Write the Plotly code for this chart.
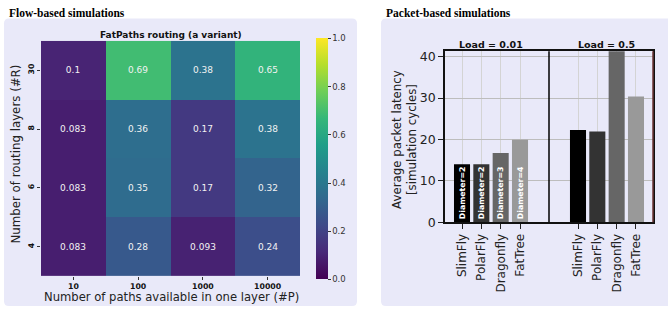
import plotly.graph_objects as go

W, H = 668, 316

# ---------------- data ----------------
paths = ["10", "100", "1000", "10000"]
layers = ["4", "6", "8", "30"]
z_4 = [0.083, 0.28, 0.093, 0.24]
z_6 = [0.083, 0.35, 0.17, 0.32]
z_8 = [0.083, 0.36, 0.17, 0.38]
z_30 = [0.1, 0.69, 0.38, 0.65]

topologies = ["SlimFly", "PolarFly", "Dragonfly", "FatTree"]
latency_low = [14.0, 14.0, 16.7, 19.9]
latency_high = [22.3, 21.9, 44.0, 30.4]
diameters = ["Diameter=2", "Diameter=2", "Diameter=3", "Diameter=4"]
bar_colors = ["#000000", "#333333", "#666666", "#999999"]
pos_low = [0, 1, 2, 3]
pos_high = [6, 7, 8, 9]
load_labels = ["Load = 0.01", "Load = 0.5"]

FONT = "DejaVu Sans"


def px_x(p):
    return p / W


def px_y(p):
    return 1 - p / H


z = [z_4, z_6, z_8, z_30]
ztext = [[f"{v:g}" for v in row] for row in z]

fig = go.Figure()

fig.add_trace(go.Heatmap(
    x=paths, y=layers, z=z, text=ztext, texttemplate="%{text}",
    textfont=dict(family=FONT, size=9, color="#f2f2f2"),
    colorscale="Viridis", zmin=0, zmax=1,
    xaxis="x", yaxis="y", showscale=True,
    colorbar=dict(
        x=px_x(316), xanchor="left", y=px_y(161.5), yanchor="middle",
        xpad=0, ypad=0,
        thickness=12, thicknessmode="pixels", len=241, lenmode="pixels",
        outlinewidth=0, ticks="outside", ticklen=3, tickcolor="#333",
        tickvals=[0, 0.2, 0.4, 0.6, 0.8, 1.0], tickformat=".1f",
        tickfont=dict(family=FONT, size=8.5, color="#333"),
    ),
    hoverinfo="skip",
))

fig.add_trace(go.Bar(
    x=pos_low + pos_high,
    y=latency_low + latency_high,
    width=0.83,
    marker=dict(color=bar_colors + bar_colors, line=dict(width=0)),
    text=diameters + ["", "", "", ""],
    textposition="inside", insidetextanchor="start", textangle=-90,
    constraintext="none",
    textfont=dict(family=FONT, size=7.8, color="white", weight="bold"),
    xaxis="x2", yaxis="y2", showlegend=False, hoverinfo="skip",
))

shapes = []


def rounded(x0, y0, x1, y1, r=5):
    X0, X1 = px_x(x0), px_x(x1)
    Y0, Y1 = px_y(y0), px_y(y1)  # Y0 top, Y1 bottom
    rx, ry = r / W, r / H
    return (f"M {X0+rx} {Y0} L {X1-rx} {Y0} Q {X1} {Y0} {X1} {Y0-ry} "
            f"L {X1} {Y1+ry} Q {X1} {Y1} {X1-rx} {Y1} L {X0+rx} {Y1} "
            f"Q {X0} {Y1} {X0} {Y1+ry} L {X0} {Y0-ry} Q {X0} {Y0} {X0+rx} {Y0} Z")


for (a, b, c, d) in [(4, 17, 357, 313), (381, 17, 680, 313)]:
    shapes.append(dict(type="path", path=rounded(a, b, c, d), xref="paper", yref="paper",
                       fillcolor="#e9e9f9", line=dict(width=0), layer="below"))

# separator between load groups
shapes.append(dict(type="line", xref="x2", yref="y2 domain", x0=4.5, x1=4.5, y0=0, y1=1,
                   line=dict(color="black", width=1.5)))
# right spine (brown)
shapes.append(dict(type="line", xref="x2 domain", yref="y2 domain", x0=1, x1=1, y0=0, y1=1,
                   line=dict(color="#6b3535", width=1.5)))

annotations = [
    dict(text="<b>Flow-based simulations</b>", x=px_x(7), y=px_y(11), xref="paper", yref="paper",
         xanchor="left", yanchor="middle", showarrow=False,
         font=dict(family="Liberation Serif", size=11.5, color="black")),
    dict(text="<b>Packet-based simulations</b>", x=px_x(384), y=px_y(11), xref="paper", yref="paper",
         xanchor="left", yanchor="middle", showarrow=False,
         font=dict(family="Liberation Serif", size=11.5, color="black")),
    dict(text="<b>FatPaths routing (a variant)</b>", x=px_x(170.5), y=px_y(34), xref="paper", yref="paper",
         xanchor="center", yanchor="middle", showarrow=False,
         font=dict(family=FONT, size=9, color="#111")),
    dict(text="Number of paths available in one layer (#P)", x=px_x(171), y=px_y(304), xref="paper",
         yref="paper", xanchor="center", yanchor="middle", showarrow=False,
         font=dict(family=FONT, size=11.6, color="#222")),
    dict(text="Number of routing layers (#R)", x=px_x(16), y=px_y(157), xref="paper", yref="paper",
         xanchor="center", yanchor="middle", showarrow=False, textangle=-90,
         font=dict(family=FONT, size=11.8, color="#222")),
    dict(text="Average packet latency<br>[simulation cycles]", x=px_x(405), y=px_y(142), xref="paper",
         yref="paper", xanchor="center", yanchor="middle", showarrow=False, textangle=-90,
         font=dict(family=FONT, size=11.8, color="#222")),
]
for lbl, xc in zip(load_labels, [1.5, 7.5]):
    annotations.append(dict(text=f"<b>{lbl}</b>", x=xc, y=px_y(44), xref="x2", yref="paper",
                            xanchor="center", yanchor="middle", showarrow=False,
                            font=dict(family=FONT, size=9.5, color="#111")))

fig.update_layout(
    width=W, height=H, margin=dict(l=0, r=0, t=0, b=0),
    paper_bgcolor="white", plot_bgcolor="white",
    showlegend=False, shapes=shapes, annotations=annotations,
    xaxis=dict(domain=[px_x(41), px_x(300)], anchor="y", type="category",
               ticks="outside", ticklen=3, tickcolor="#333", showgrid=False, zeroline=False,
               tickfont=dict(family=FONT, size=7.8, color="#111", weight="bold"), showline=False),
    yaxis=dict(domain=[px_y(282), px_y(40)], anchor="x", type="category",
               ticks="outside", ticklen=3, tickcolor="#333", showgrid=False, zeroline=False,
               tickangle=-90, tickfont=dict(family=FONT, size=7.8, color="#111", weight="bold"),
               showline=False),
    xaxis2=dict(domain=[px_x(445), px_x(653)], anchor="y2", range=[-0.88, 9.88],
                tickvals=pos_low + pos_high, ticktext=topologies + topologies, tickangle=-90,
                ticks="outside", ticklen=5, tickcolor="#222", showgrid=True, gridcolor="#d4d4d4",
                gridwidth=1.3, zeroline=False, showline=True, linecolor="#111", linewidth=1.5,
                mirror=True, tickfont=dict(family=FONT, size=12, color="#222")),
    yaxis2=dict(domain=[px_y(226.7), px_y(50.7)], anchor="x2", range=[0, 41.3],
                tickvals=[0, 10, 20, 30, 40], ticks="outside", ticklen=5, tickcolor="#222",
                showgrid=True, gridcolor="#bdbdbd", gridwidth=1.1, zeroline=False,
                showline=True, linecolor="#111", linewidth=1.5, mirror=True,
                tickfont=dict(family=FONT, size=12.5, color="#222")),
)

fig.write_html("out.html", post_script="document.body.style.margin='0';",
               config={"displayModeBar": False})
